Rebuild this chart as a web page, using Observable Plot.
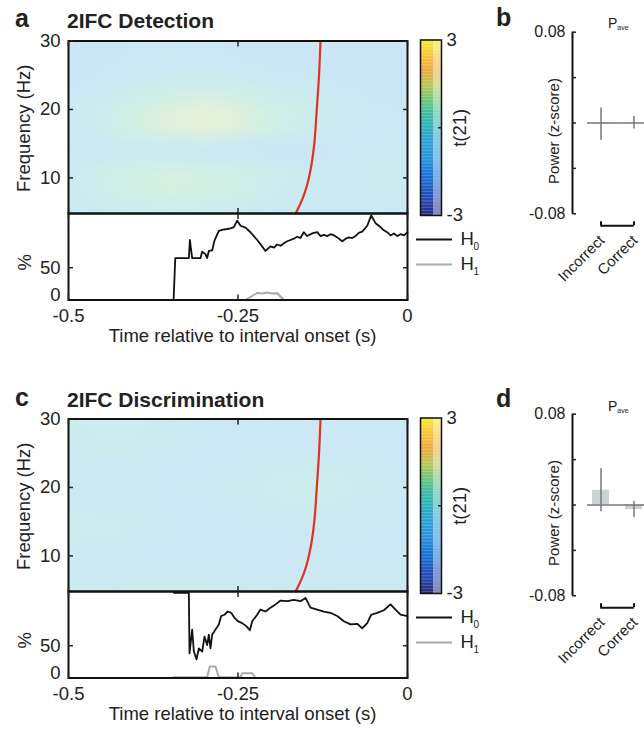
<!DOCTYPE html>
<html><head><meta charset="utf-8">
<script src="https://cdn.jsdelivr.net/npm/d3@7"></script>
<script src="https://cdn.jsdelivr.net/npm/@observablehq/plot@0.6"></script>
<style>
body{margin:0;background:#fff;}
#root{position:relative;width:644px;height:732px;overflow:hidden;background:#fff;font-family:"Liberation Sans",Arial,Helvetica,sans-serif;color:#222;}
.letter{font-weight:bold;font-size:25px;line-height:1;white-space:nowrap;}
.title{font-weight:bold;font-size:21px;line-height:1;white-space:nowrap;}
.pave{font-size:14px;line-height:1;white-space:nowrap;}
.pave sub{font-size:7px;vertical-align:-2px;}
</style></head><body><div id="root"></div><script>
// ---------- data ----------
const timeDomain = [-0.5, 0];
const freqDomain = [4.8, 30];
const pctDomain = [0, 134];
const powerDomain = [-0.08, 0.08];
const timeTicks = [-0.5, -0.25, 0];
const freqTicks = [10, 20, 30];
const pctTicks = [0, 50];
const powerTicks = [-0.08, -0.04, 0, 0.04, 0.08];
const powerLabelTicks = [-0.08, 0.08];
const tScaleTicks = [-3, 3];
const tScaleLabel = "t(21)";

const hmTimes = [-0.5, -0.45, -0.4, -0.35, -0.3, -0.25, -0.2, -0.15, -0.1, -0.05, 0];
const hmFreqs = [5, 8, 11, 14, 17, 20, 23, 26, 30];
const tDetection = [
  [-0.3,-0.1,0.1,0.2,0.1,-0.1,-0.3,-0.4,-0.3,-0.2,-0.2],
  [-0.1,0.3,0.6,0.8,0.7,0.5,0.1,-0.2,-0.3,-0.2,-0.3],
  [-0.2,0.3,0.7,0.8,0.7,0.5,0.2,-0.1,-0.3,-0.1,0.0],
  [-0.6,-0.5,-0.4,-0.5,-0.7,-0.9,-0.9,-0.7,-0.5,-0.3,-0.2],
  [-0.3,0.1,0.7,1.1,1.3,1.1,0.6,0.2,-0.2,-0.4,-0.4],
  [-0.3,0.1,0.7,1.1,1.3,1.1,0.6,0.2,-0.2,-0.4,-0.5],
  [-0.5,-0.3,0.0,0.2,0.3,0.2,0.0,-0.2,-0.4,-0.6,-0.6],
  [-0.6,-0.5,-0.4,-0.3,-0.3,-0.4,-0.5,-0.6,-0.7,-0.7,-0.6],
  [-0.7,-0.6,-0.5,-0.4,-0.5,-0.6,-0.6,-0.7,-0.7,-0.7,-0.6]
];
const tDiscrimination = [
  [-0.2,-0.1,0.0,0.1,0.1,0.0,-0.2,-0.3,-0.2,-0.2,-0.2],
  [-0.3,-0.3,-0.2,-0.2,-0.3,-0.4,-0.4,-0.4,-0.3,-0.3,-0.3],
  [-0.2,-0.3,-0.4,-0.5,-0.5,-0.5,-0.4,-0.4,-0.4,-0.5,-0.5],
  [0.4,0.2,-0.1,-0.3,-0.4,-0.5,-0.4,-0.3,-0.2,-0.3,-0.4],
  [-0.2,-0.2,-0.3,-0.4,-0.4,-0.3,-0.1,0.0,-0.1,-0.3,-0.4],
  [-0.3,-0.3,-0.3,-0.4,-0.3,-0.1,0.1,0.3,0.2,-0.1,-0.3],
  [-0.3,-0.3,-0.3,-0.4,-0.4,-0.3,-0.1,0.0,-0.1,-0.3,-0.4],
  [-0.1,0.0,0.0,-0.2,-0.4,-0.5,-0.5,-0.4,-0.4,-0.4,-0.4],
  [0.0,0.1,0.1,-0.1,-0.3,-0.5,-0.5,-0.5,-0.5,-0.4,-0.4]
];
const boundaryFreq = [4.8, 5.5, 6.5, 7.5, 8.5, 10, 12, 15, 20, 25, 30];
const boundaryTime = [-0.165, -0.1615, -0.1568, -0.1528, -0.1494, -0.1455, -0.1415, -0.1375, -0.1338, -0.1305, -0.1283];

const colorStopsT = [-3, -2.4, -1.7, -1.0, -0.4, 0.2, 0.8, 1.4, 2.0, 2.5, 3];
const colorStops = ["#2c2c7c","#2349b5","#1670d8","#2796dd","#2aa3d2","#2db6b0","#5dc188","#b5c755","#f2a93a","#f8c83a","#f5ec27"];

const legendNames = ["H0", "H1"];
const legendColors = ["#111111", "#aaaaaa"];

const detH0Time = [-0.345,-0.3425,-0.336,-0.33,-0.3225,-0.321,-0.3176,-0.312,-0.3053,-0.3029,
 -0.298,-0.2955,-0.293,-0.288,-0.2847,-0.2783,-0.272,-0.266,-0.261,-0.2561,
 -0.2512,-0.2463,-0.239,-0.2316,-0.2217,-0.2144,-0.2094,-0.202,-0.197,-0.1922,
 -0.187,-0.1824,-0.1775,-0.1726,-0.1677,-0.1627,-0.158,-0.1529,-0.148,-0.143,
 -0.138,-0.1332,-0.128,-0.1234,-0.118,-0.1136,-0.108,-0.1037,-0.0963,-0.091,
 -0.0865,-0.0815,-0.0767,-0.0718,-0.0668,-0.0594,-0.0535,-0.0471,-0.0398,-0.035,
 -0.03,-0.025,-0.0201,-0.015,-0.0103,-0.005,0];
const detH0Pct = [0,65,65,65,65,93,65,65,65,75,
 71,65,76,77,92,107,109,110,111,113,
 123,115,112,105,93,83,76,83,81,86,
 84,88,91,93,95,98,96,105,99,102,
 104,105,99,101,99,102,100,97,91,95,
 97,96,99,104,106,115,131,119,113,108,
 105,100,103,99,102,100,105];
const detH1Time = [-0.345,-0.239,-0.2217,-0.214,-0.207,-0.2,-0.192,-0.1824,0];
const detH1Pct = [0,0,11,10,11.5,10,10.5,0,0];

const disH0Time = [-0.3447,-0.3225,-0.3215,-0.3176,-0.3151,-0.3112,-0.3077,-0.3028,-0.2994,-0.2955,
 -0.293,-0.2906,-0.2881,-0.2832,-0.2783,-0.2748,-0.2699,-0.265,-0.2601,-0.2551,
 -0.2502,-0.2438,-0.2374,-0.2325,-0.229,-0.2217,-0.2168,-0.2094,-0.202,-0.1947,
 -0.1873,-0.1775,-0.1676,-0.1578,-0.1504,-0.1431,-0.1332,-0.1234,-0.1136,-0.1037,
 -0.0939,-0.0841,-0.0742,-0.0668,-0.0594,-0.0535,-0.0447,-0.0349,-0.0251,-0.0177,
 -0.0103,0];
const disH0Pct = [132,132,38,75,41,29,46,41,64,51,
 67,46,67,75,83,96,98,103,101,93,
 88,85,80,74,88,98,106,103,109,114,
 120,119,121,119,124,109,106,103,101,96,
 88,83,84,77,85,98,101,105,114,106,
 98,96];
const disH1Time = [-0.345,-0.2955,-0.2916,-0.2832,-0.2783,-0.2463,-0.2438,-0.229,-0.2242,0];
const disH1Pct = [1.2,1.2,17.8,17.8,1.2,1.2,7.4,7.4,0,0];

const powerCats = ["Incorrect", "Correct"];
const detPowerMean = [-0.001, 0.0003];
const detPowerErr = [0.0142, 0.0056];
const disPowerMean = [0.013, -0.004];
const disPowerErr = [0.019, 0.007];

// ---------- helpers ----------
const root = document.getElementById("root");
const FONT = '"Liberation Sans", Arial, Helvetica, sans-serif';
const INK = "#222";
function st(fs) { return {fontFamily: FONT, fontSize: fs + "px", color: INK, background: "none", overflow: "visible", display: "block"}; }
function place(el, left, top) { el.style.position = "absolute"; el.style.left = left + "px"; el.style.top = top + "px"; root.appendChild(el); }
function html(str, left, top, cls) { const d = document.createElement("div"); d.className = cls; d.innerHTML = str; place(d, left, top); }
const heatStops = colorStops.map(c => d3.interpolateRgb("#ffffff", c)(0.245));

function drawHeatmap(grid, oy) {
  const cells = hmFreqs.flatMap((f, r) => hmTimes.map((t, c) => ({t, f, v: grid[r][c]})));
  const boundary = boundaryTime.map((t, i) => ({t, f: boundaryFreq[i]}));
  const p = Plot.plot({
    width: 412, height: 184, marginLeft: 68, marginRight: 5, marginTop: 10.5, marginBottom: 1,
    style: st(18.5),
    x: {domain: timeDomain, label: null},
    y: {domain: freqDomain, label: null},
    color: {type: "linear", domain: colorStopsT, range: heatStops, interpolate: "rgb", clamp: true},
    marks: [
      Plot.raster(cells, {x: "t", y: "f", fill: "v", x1: timeDomain[0], x2: timeDomain[1], y1: freqDomain[0], y2: freqDomain[1], interpolate: "barycentric", blur: 6}),
      Plot.line(boundary, {x: "t", y: "f", stroke: "#e2321f", strokeWidth: 2.2, curve: "monotone-y"}),
      Plot.frame({stroke: "#111", strokeWidth: 2}),
      Plot.axisY(freqTicks, {anchor: "left", tickSize: 0, tickPadding: 8, label: null, tickFormat: d => String(d)}),
      Plot.axisY(freqTicks, {anchor: "left", tickSize: -5, fill: "none", label: null, strokeWidth: 1.5}),
      Plot.axisY(freqTicks, {anchor: "right", tickSize: -5, fill: "none", label: null, strokeWidth: 1.5}),
      Plot.axisX(timeTicks, {anchor: "top", tickSize: -5, fill: "none", label: null, strokeWidth: 1.5}),
      Plot.axisX(timeTicks, {anchor: "bottom", tickSize: -5, fill: "none", label: null, strokeWidth: 1.5}),
      Plot.text(["Frequency (Hz)"], {frameAnchor: "left", textAnchor: "middle", rotate: -90, dx: -44, dy: 1})
    ]
  });
  place(p, 0, oy + 30);
}

function drawLines(h0t, h0v, h1t, h1v, oy) {
  const p = Plot.plot({
    width: 412, height: 160, marginLeft: 68, marginRight: 5, marginTop: 13, marginBottom: 60.5,
    style: st(18.5),
    x: {domain: timeDomain, label: null},
    y: {domain: pctDomain, label: null},
    marks: [
      Plot.line(h1t, {x: h1t, y: h1v, stroke: legendColors[1], strokeWidth: 2}),
      Plot.line(h0t, {x: h0t, y: h0v, stroke: legendColors[0], strokeWidth: 1.8}),
      Plot.frame({stroke: "#111", strokeWidth: 2}),
      Plot.axisY([pctTicks[1]], {anchor: "left", tickSize: 0, tickPadding: 8, label: null, tickFormat: d => String(d)}),
      Plot.axisY([pctTicks[0]], {anchor: "left", tickSize: 0, tickPadding: 8, label: null, tickFormat: d => String(d), dy: -5}),
      Plot.axisY([pctTicks[1]], {anchor: "left", tickSize: -5, fill: "none", label: null, strokeWidth: 1.5}),
      Plot.axisY([pctTicks[1]], {anchor: "right", tickSize: -5, fill: "none", label: null, strokeWidth: 1.5}),
      Plot.axisX(timeTicks, {anchor: "top", tickSize: -5, fill: "none", label: null, strokeWidth: 1.5}),
      Plot.axisX(timeTicks, {anchor: "bottom", tickSize: -5, fill: "none", label: null, strokeWidth: 1.5}),
      Plot.axisX(timeTicks, {anchor: "bottom", tickSize: 0, tickPadding: 8.5, label: null, tickFormat: d => String(d)}),
      Plot.text(["Time relative to interval onset (s)"], {frameAnchor: "bottom", textAnchor: "middle", lineAnchor: "top", dy: 28.8, dx: 4.5}),
      Plot.text(["%"], {frameAnchor: "left", textAnchor: "middle", rotate: -90, dx: -43.5, dy: 5.5})
    ]
  });
  place(p, 0, oy + 200);
}

function drawColorbar(oy) {
  const steps = d3.range(colorStopsT[0], colorStopsT[colorStopsT.length - 1], 0.05);
  const p = Plot.plot({
    width: 110, height: 230, marginLeft: 20, marginRight: 69, marginTop: 39.5, marginBottom: 15,
    style: st(18.5),
    x: {domain: [0, 1], axis: null},
    y: {domain: [colorStopsT[0], colorStopsT[colorStopsT.length - 1]], label: null},
    color: {type: "linear", domain: colorStopsT, range: colorStops, interpolate: "rgb"},
    marks: [
      Plot.rect(steps, {x1: 0, x2: 0.62, y1: d => d, y2: d => d + 0.055, fill: d => d + 0.025}),
      Plot.rect(steps, {x1: 0.62, x2: 1, y1: d => d, y2: d => d + 0.055, fill: d => d + 0.025, fillOpacity: 0.55}),
      Plot.frame({stroke: "#111", strokeWidth: 1.5}),
      Plot.axisY([0], {anchor: "right", tickSize: -4, fill: "none", label: null, strokeWidth: 1.5}),
      Plot.axisY(tScaleTicks, {anchor: "right", tickSize: 0, tickPadding: 5, label: null, tickFormat: d => String(d)}),
      Plot.text([tScaleLabel], {frameAnchor: "right", textAnchor: "middle", rotate: -90, dx: 19})
    ]
  });
  place(p, 400, oy);
}

function drawLegend(oy) {
  const p = Plot.plot({
    width: 75, height: 55, marginLeft: 11, marginRight: 28, marginTop: 0, marginBottom: 0,
    style: st(18.5),
    y: {type: "point", domain: legendNames, range: [14, 39], padding: 0, axis: null},
    color: {domain: legendNames, range: legendColors},
    marks: [
      Plot.ruleY(legendNames, {y: d => d, stroke: d => d, strokeWidth: 2}),
      Plot.text(legendNames, {y: d => d, text: d => d[0], frameAnchor: "right", textAnchor: "start", dx: 8, fontSize: 18.5}),
      Plot.text(legendNames, {y: d => d, text: d => d.slice(1), frameAnchor: "right", textAnchor: "start", dx: 21, dy: 7, fontSize: 10})
    ]
  });
  place(p, 405, oy + 225);
}

function drawPower(means, errs, oy) {
  const rows = powerCats.map((cat, i) => ({cat, mean: means[i], err: errs[i]}));
  const yRange = [213.3, 31.7];
  const axis = Plot.plot({
    width: 100, height: 240, marginLeft: 92, marginRight: 8, marginTop: 31.7, marginBottom: 26.7,
    style: st(16),
    y: {domain: powerDomain, range: yRange, label: null},
    marks: [
      Plot.ruleX([0], {x: null, y1: powerDomain[0], y2: powerDomain[1], stroke: "#111", strokeWidth: 2}),
      Plot.axisY(powerTicks, {anchor: "left", tickSize: -4, fill: "none", label: null, strokeWidth: 1.5}),
      Plot.axisY(powerLabelTicks, {anchor: "left", tickSize: 0, tickPadding: 7, label: null, tickFormat: d => String(d)}),
      Plot.text(["Power (z-score)"], {frameAnchor: "left", textAnchor: "middle", rotate: -90, dx: -18.5, dy: 8, fontSize: 15})
    ]
  });
  place(axis, 480, oy);
  const bars = Plot.plot({
    width: 64, height: 300, marginLeft: 7, marginRight: 0, marginTop: 31.7, marginBottom: 86.7,
    style: st(15),
    x: {type: "band", domain: powerCats, range: [12.25, 61.75], paddingInner: 0.5, paddingOuter: 0, axis: null},
    y: {domain: powerDomain, range: yRange, axis: null},
    marks: [
      Plot.barY(rows, {x: "cat", y: "mean", fill: "#cdd2d5"}),
      Plot.ruleY([0], {stroke: "#777", strokeWidth: 1.5}),
      Plot.ruleX(rows, {x: "cat", y1: d => d.mean - d.err, y2: d => d.mean + d.err, stroke: "#777", strokeWidth: 1.5}),
      Plot.ruleY([powerDomain[0]], {x1: () => powerCats[0], x2: () => powerCats[1], dy: 12, insetLeft: 8.25, insetRight: 8.25, stroke: "#111", strokeWidth: 2}),
      Plot.ruleX(powerCats, {x: d => d, y1: powerDomain[0], y2: powerDomain[0], dy: 12, insetTop: -4, stroke: "#111", strokeWidth: 2}),
      Plot.text(powerCats, {x: d => d, y: powerDomain[0], text: d => d, rotate: -45, textAnchor: "end", dy: 24, dx: 1})
    ]
  });
  place(bars, 580, oy);
}

// ---------- panels a & b ----------
html("a", 15, 6, "letter");
html("2IFC Detection", 67, 10, "title");
drawHeatmap(tDetection, 0);
drawLines(detH0Time, detH0Pct, detH1Time, detH1Pct, 0);
drawColorbar(0);
drawLegend(0);
html("b", 496, 5, "letter");
html("P<sub>ave</sub>", 608, 16, "pave");
drawPower(detPowerMean, detPowerErr, 0);

// ---------- panels c & d ----------
html("c", 15, 385, "letter");
html("2IFC Discrimination", 67, 389, "title");
drawHeatmap(tDiscrimination, 377.5);
drawLines(disH0Time, disH0Pct, disH1Time, disH1Pct, 377.5);
drawColorbar(377.5);
drawLegend(377.5);
html("d", 496, 386, "letter");
html("P<sub>ave</sub>", 608, 399, "pave");
drawPower(disPowerMean, disPowerErr, 381.5);
</script></body></html>
